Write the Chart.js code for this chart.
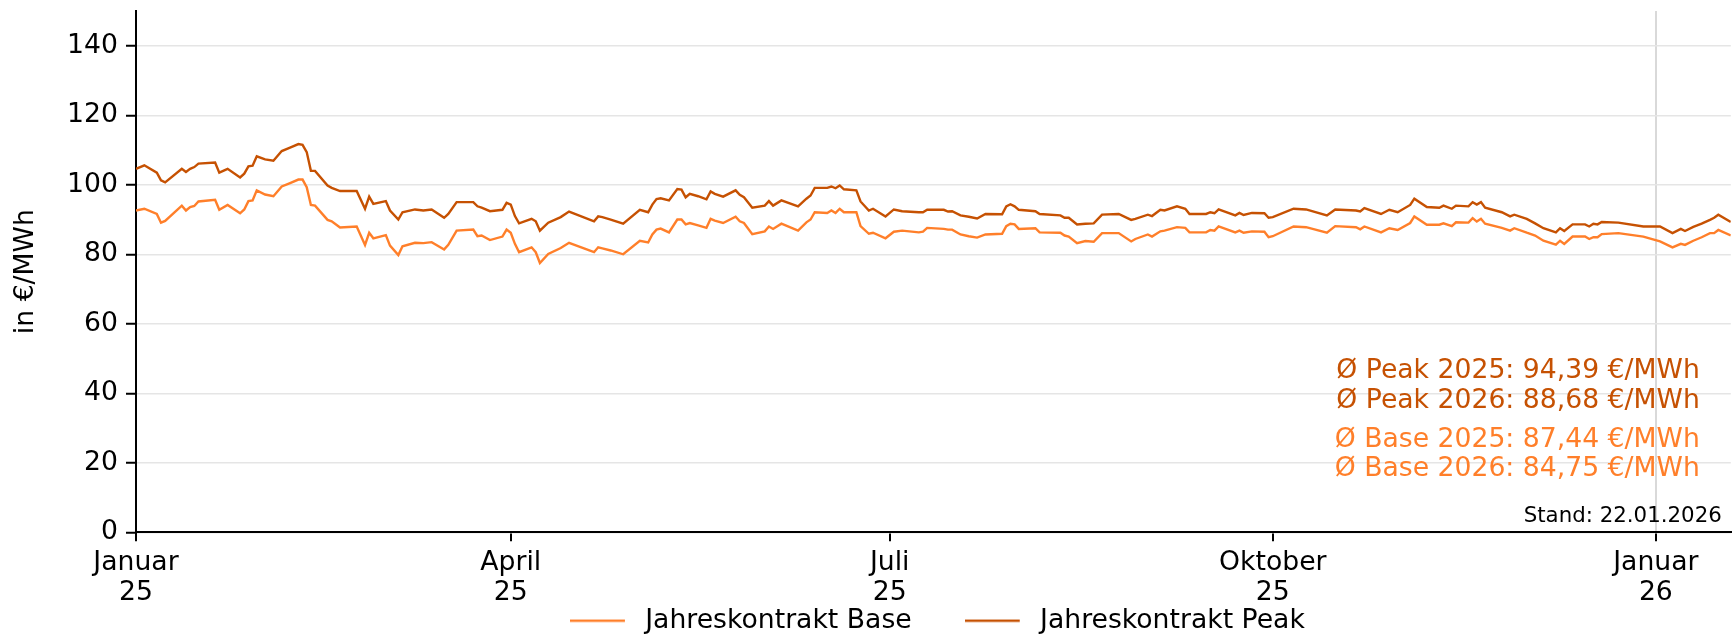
<!DOCTYPE html>
<html><head><meta charset="utf-8">
<script src="https://cdn.jsdelivr.net/npm/chart.js@4.4.1/dist/chart.umd.min.js"></script>
<style>html,body{margin:0;padding:0;background:#fff;overflow:hidden;width:1732px;height:634px}#wrap{width:1732px;height:644px}</style>
</head><body><div id="wrap"><canvas id="c" width="1732" height="644"></canvas></div>
<script>
const dates = [
'2025-01-01','2025-01-03','2025-01-06','2025-01-07','2025-01-08','2025-01-12','2025-01-13','2025-01-14','2025-01-15','2025-01-16','2025-01-20','2025-01-21','2025-01-23','2025-01-26','2025-01-27','2025-01-28','2025-01-29','2025-01-30',
'2025-02-01','2025-02-03','2025-02-05','2025-02-07','2025-02-09','2025-02-10','2025-02-11','2025-02-12','2025-02-13','2025-02-16','2025-02-17','2025-02-19','2025-02-23','2025-02-25','2025-02-26','2025-02-27',
'2025-03-02','2025-03-03','2025-03-05','2025-03-06','2025-03-09','2025-03-11','2025-03-13','2025-03-16','2025-03-17','2025-03-19','2025-03-23','2025-03-24','2025-03-25','2025-03-27','2025-03-30','2025-03-31',
'2025-04-01','2025-04-02','2025-04-03','2025-04-06','2025-04-07','2025-04-08','2025-04-10','2025-04-13','2025-04-15','2025-04-21','2025-04-22','2025-04-23','2025-04-25','2025-04-28',
'2025-05-02','2025-05-04','2025-05-05','2025-05-06','2025-05-07','2025-05-09','2025-05-11','2025-05-12','2025-05-13','2025-05-14','2025-05-16','2025-05-18','2025-05-19','2025-05-20','2025-05-22','2025-05-25','2025-05-26','2025-05-27','2025-05-29',
'2025-06-01','2025-06-02','2025-06-03','2025-06-05','2025-06-09','2025-06-11','2025-06-12','2025-06-13','2025-06-16','2025-06-17','2025-06-18','2025-06-19','2025-06-20','2025-06-23','2025-06-24','2025-06-26','2025-06-27','2025-06-30',
'2025-07-02','2025-07-04','2025-07-08','2025-07-09','2025-07-10','2025-07-14','2025-07-15','2025-07-16','2025-07-18','2025-07-20','2025-07-22','2025-07-24','2025-07-28','2025-07-29','2025-07-30','2025-07-31',
'2025-08-01','2025-08-05','2025-08-06','2025-08-11','2025-08-12','2025-08-13','2025-08-15','2025-08-17','2025-08-19','2025-08-21','2025-08-25','2025-08-28','2025-08-29',
'2025-09-01','2025-09-02','2025-09-04','2025-09-05','2025-09-08','2025-09-10','2025-09-11','2025-09-15','2025-09-16','2025-09-17','2025-09-18','2025-09-22','2025-09-23','2025-09-24','2025-09-26','2025-09-29','2025-09-30',
'2025-10-01','2025-10-06','2025-10-09','2025-10-14','2025-10-16','2025-10-21','2025-10-22','2025-10-23','2025-10-27','2025-10-29','2025-10-31',
'2025-11-03','2025-11-04','2025-11-07','2025-11-10','2025-11-11','2025-11-13','2025-11-14','2025-11-17','2025-11-18','2025-11-19','2025-11-20','2025-11-21','2025-11-25','2025-11-27','2025-11-28',
'2025-12-01','2025-12-03','2025-12-05','2025-12-08','2025-12-09','2025-12-10','2025-12-12','2025-12-15','2025-12-16','2025-12-17','2025-12-18','2025-12-19','2025-12-23','2025-12-29',
'2026-01-02','2026-01-05','2026-01-07','2026-01-08','2026-01-10','2026-01-12','2026-01-14','2026-01-15','2026-01-16','2026-01-19'
];
const base = [
92.6,93.1,91.6,89.1,89.6,94.0,92.6,93.6,93.9,95.2,95.7,92.8,94.2,91.8,92.9,95.3,95.5,98.4,
97.2,96.7,99.5,100.5,101.5,101.5,99.3,94.2,94.0,89.9,89.5,87.7,88.0,82.7,86.2,84.6,
85.5,82.5,79.8,82.3,83.3,83.2,83.5,81.4,82.7,86.8,87.1,85.2,85.4,84.1,85.1,87.1,
86.2,83.0,80.6,82.0,80.6,77.5,80.1,81.8,83.3,80.6,82.0,81.7,81.1,80.0,
83.9,83.4,85.7,87.1,87.4,86.3,90.0,90.0,88.6,89.0,88.3,87.6,90.2,89.7,89.0,90.8,89.5,89.0,85.8,
86.6,88.0,87.3,88.8,86.8,89.2,90.0,92.1,91.9,92.6,91.9,93.1,92.1,92.1,88.1,85.9,86.2,84.6,
86.5,86.8,86.3,86.5,87.6,87.3,87.1,87.1,85.7,85.2,84.8,85.7,85.9,88.1,88.8,88.6,
87.3,87.5,86.3,86.2,85.4,85.1,83.2,83.8,83.6,86.1,86.1,83.7,84.4,
85.7,85.1,86.6,86.8,87.8,87.6,86.3,86.3,87.0,86.8,88.0,86.3,86.8,86.2,86.6,86.5,84.9,
85.2,88.0,87.8,86.2,88.1,87.8,87.2,88.0,86.3,87.5,87.0,
89.0,90.9,88.5,88.5,88.9,88.1,89.2,89.1,90.4,89.4,90.2,88.8,87.6,86.8,87.5,
86.2,85.4,83.9,82.8,83.9,83.0,85.1,85.1,84.4,84.9,84.9,85.8,86.1,85.1,
83.7,82.0,83.0,82.7,83.9,84.9,86.1,86.1,87.0,85.4
];
const peak = [
104.6,105.6,103.5,101.3,100.7,104.6,103.7,104.6,105.1,106.1,106.4,103.5,104.6,102.1,103.2,105.3,105.5,108.2,
107.3,106.9,109.7,110.7,111.7,111.5,109.4,104.0,104.0,99.8,99.1,98.2,98.2,93.1,96.6,94.5,
95.3,92.6,90.0,92.1,92.9,92.6,92.9,90.5,91.6,95.0,95.0,93.8,93.4,92.4,92.8,94.8,
94.3,91.0,88.9,90.2,89.5,86.8,89.1,90.7,92.3,89.5,90.9,90.7,90.0,88.8,
92.8,92.1,94.3,95.9,96.1,95.5,98.8,98.6,96.4,97.4,96.7,95.8,98.1,97.4,96.6,98.4,97.1,96.4,93.4,
94.0,95.3,94.0,95.5,93.8,96.0,96.9,99.1,99.1,99.5,99.0,99.8,98.7,98.4,95.2,92.6,93.1,90.9,
92.9,92.4,92.1,92.1,92.8,92.8,92.3,92.4,91.2,90.8,90.3,91.6,91.5,93.8,94.4,93.8,
92.8,92.4,91.6,91.2,90.5,90.5,88.6,88.8,88.9,91.4,91.6,89.9,90.2,
91.4,91.0,92.8,92.6,93.8,93.1,91.6,91.6,92.1,91.8,92.9,91.2,91.9,91.3,91.9,91.8,90.5,
90.7,93.1,92.9,91.2,92.9,92.6,92.3,93.3,91.6,92.8,92.1,
94.2,96.0,93.6,93.4,94.0,93.1,94.0,93.8,95.0,94.3,95.0,93.4,92.1,90.9,91.4,
90.2,88.9,87.5,86.3,87.5,86.7,88.6,88.6,88.0,88.8,88.6,89.3,89.1,88.0,
88.0,86.1,87.3,86.7,87.9,88.8,89.9,90.5,91.4,89.3
];
const seriesNames = ['Jahreskontrakt Base', 'Jahreskontrakt Peak'];
const xTickDates = ['2025-01-01','2025-04-01','2025-07-01','2025-10-01','2026-01-01'];
const xTickLabels = [['Januar','25'],['April','25'],['Juli','25'],['Oktober','25'],['Januar','26']];
const yTicks = [0,20,40,60,80,100,120,140];
const yMin = 0, yMax = 150;
const yTitle = 'in €/MWh';
const avgLines = ['Ø Peak 2025: 94,39 €/MWh','Ø Peak 2026: 88,68 €/MWh','Ø Base 2025: 87,44 €/MWh','Ø Base 2026: 84,75 €/MWh'];
const standText = 'Stand: 22.01.2026';

const ORIGIN = Date.UTC(2025,0,1);
function dayOf(s){const p=s.split('-').map(Number);return (Date.UTC(p[0],p[1]-1,p[2])-ORIGIN)/86400000;}
const xs = dates.map(dayOf);
const FONT = "'DejaVu Sans', sans-serif";
const FS = 26.67;
const BASE_COLOR = '#ff7f2a', PEAK_COLOR = '#c65102';
const LINE_W = 2.4;
const yearLine = dayOf('2026-01-01');

function legendLine(color){
  const c = document.createElement('canvas');
  c.width = 62; c.height = 4;
  const g = c.getContext('2d');
  g.fillStyle = color; g.fillRect(0, 0.8, 55, LINE_W);
  return c;
}

const notesPlugin = {
  id:'notes',
  afterDraw(chart){
    const ctx = chart.ctx, a = chart.chartArea;
    ctx.save();
    ctx.textAlign = 'right'; ctx.textBaseline = 'middle';
    ctx.font = FS + 'px ' + FONT;
    const offs = [360, 390, 429, 458];
    const cols = [PEAK_COLOR, PEAK_COLOR, BASE_COLOR, BASE_COLOR];
    avgLines.forEach((t,i)=>{ ctx.fillStyle = cols[i]; ctx.fillText(t, a.right - 31, a.top + offs[i]); });
    ctx.font = '21.33px ' + FONT; ctx.fillStyle = '#000';
    ctx.fillText(standText, a.right - 9, a.top + 505);
    ctx.restore();
  }
};

const LEG_PAD = 53, LEG_SHIFT = 4;
const chart = new Chart(document.getElementById('c'), {
  type:'line',
  data:{datasets:[
    {label:seriesNames[0], data: xs.map((x,i)=>({x:x, y:base[i]})), borderColor:BASE_COLOR, backgroundColor:BASE_COLOR, borderWidth:LINE_W, pointRadius:0, tension:0, pointStyle:legendLine(BASE_COLOR)},
    {label:seriesNames[1], data: xs.map((x,i)=>({x:x, y:peak[i]})), borderColor:PEAK_COLOR, backgroundColor:PEAK_COLOR, borderWidth:LINE_W, pointRadius:0, tension:0, pointStyle:legendLine(PEAK_COLOR)}
  ]},
  options:{
    responsive:false, animation:false, devicePixelRatio:1,
    layout:{padding:{top:11,left:0,right:0,bottom:0}},
    plugins:{
      legend:{position:'bottom', fullSize:false,
        labels:{usePointStyle:true, pointStyleWidth:62, padding:LEG_PAD, color:'#000', font:{family:FONT, size:FS}}},
      tooltip:{enabled:false}
    },
    scales:{
      x:{type:'linear', min:0, max:xs[xs.length-1],
        afterBuildTicks: ax => { ax.ticks = xTickDates.map(d=>({value:dayOf(d)})); },
        afterFit: ax => { ax.height = 75; ax.paddingLeft = 0; ax.paddingRight = 0; },
        ticks:{autoSkip:false, maxRotation:0, padding:7, color:'#000', font:{family:FONT, size:FS, lineHeight:1.12}, callback:(v,i)=>xTickLabels[i]},
        grid:{color: c => (c.tick && c.tick.value === yearLine) ? '#d9d9d9' : 'rgba(0,0,0,0)', lineWidth:2, tickColor:'#000', tickLength:9, tickWidth:2},
        border:{color:'#000', width:2}
      },
      y:{min:yMin, max:yMax,
        afterBuildTicks: ax => { ax.ticks = yTicks.map(v=>({value:v})); },
        afterFit: ax => { ax.width = 136; ax.paddingTop = 0; ax.paddingBottom = 0; },
        ticks:{padding:8, color:'#000', font:{family:FONT, size:FS}},
        grid:{color:'#e5e5e5', lineWidth:1.5, tickColor:'#000', tickLength:10, tickWidth:2},
        border:{color:'#000', width:2},
        title:{display:true, text:yTitle, color:'#000', font:{family:FONT, size:FS}, padding:{top:10, bottom:0}}
      }
    }
  },
  plugins:[notesPlugin]
});

// legend: keep horizontal item spacing, but no vertical padding
const lg = chart.legend;
if (lg) {
  const origFit = lg.fit;
  lg.fit = function(){ origFit.call(this); this.height = Math.max(0, this.height - LEG_PAD); };
  lg.draw = function(){
    if (!this.options.display) return;
    const t = this.top, l = this.left, r = this.right;
    this.top = t - LEG_PAD; this.left = l + LEG_SHIFT; this.right = r + LEG_SHIFT;
    this._draw();
    this.top = t; this.left = l; this.right = r;
  };
  chart.update();
}
</script>
</body></html>
